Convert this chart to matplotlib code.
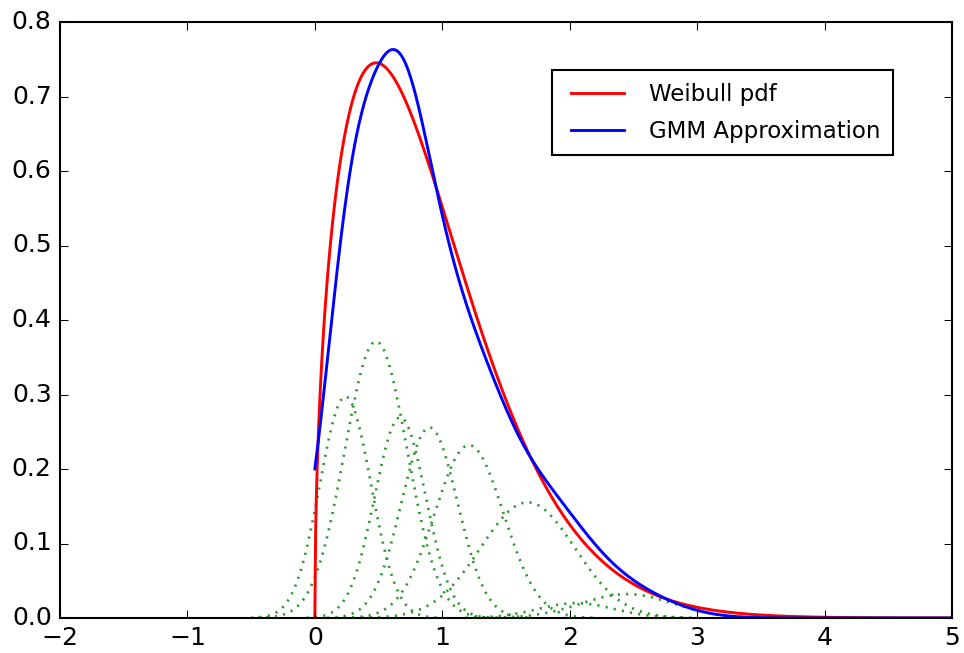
import numpy as np
import matplotlib
matplotlib.use('Agg')
import matplotlib.pyplot as plt

# Weibull parameters (peak ~0.745 at x ~0.48)
weibull_shape = 1.5
weibull_scale = 1.0

# Gaussian mixture components
gmm_means = [0.24, 0.48, 0.67, 0.90, 1.21, 1.67, 2.05, 2.45]
gmm_sigmas = [0.20, 0.245, 0.20, 0.22, 0.27, 0.37, 0.30, 0.36]
gmm_weights = [0.149, 0.228, 0.135, 0.141, 0.157, 0.144, 0.015, 0.029]

legend_labels = ['Weibull pdf', 'GMM Approximation']


def weibull_pdf(x, k, lam):
    return (k / lam) * (x / lam) ** (k - 1) * np.exp(-(x / lam) ** k)


def gauss(x, mu, sd, w):
    return w * np.exp(-(x - mu) ** 2 / (2 * sd ** 2)) / (sd * np.sqrt(2 * np.pi))


plt.style.use('classic')

fig = plt.figure(figsize=(964 / 150, 653 / 150), dpi=150, facecolor='white')
ax = fig.add_axes([60 / 964, 35 / 653, 892 / 964, 596 / 653])

x = np.linspace(0, 5, 800)
x_full = np.linspace(-2, 5, 1400)

# components first, so the two curves sit on top
for mu, sd, w in zip(gmm_means, gmm_sigmas, gmm_weights):
    g = gauss(x_full, mu, sd, w)
    g[g < 3e-4] = np.nan  # tails flat on the axis are not drawn
    ax.plot(x_full, g, ':', color='#2b992b', lw=1.3)

mix = sum(gauss(x, mu, sd, w) for mu, sd, w in zip(gmm_means, gmm_sigmas, gmm_weights))

ax.plot(x, weibull_pdf(x, weibull_shape, weibull_scale), 'r-', lw=1.4, label=legend_labels[0])
ax.plot(x, mix, 'b-', lw=1.4, label=legend_labels[1])

ax.set_xlim(-2, 5)
ax.set_ylim(0, 0.8)
ax.tick_params(labelsize=12)

ax.legend(loc='upper right', bbox_to_anchor=(0.934, 0.919), borderaxespad=0,
          fontsize=11, fancybox=False, handlelength=2.9, handletextpad=0.8,
          labelspacing=0.6, borderpad=0.55)

fig.savefig('out.png', dpi=150, facecolor='white')
